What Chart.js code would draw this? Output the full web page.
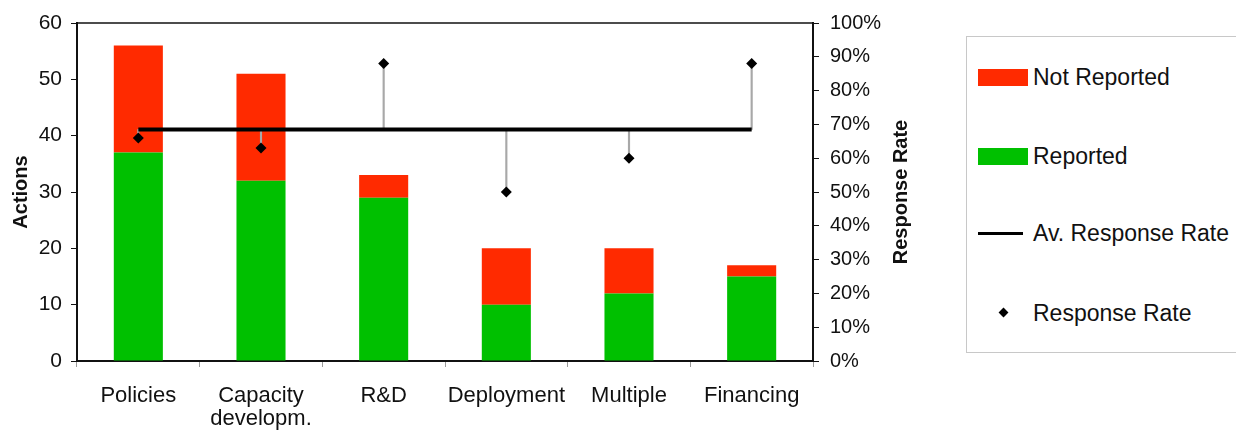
<!DOCTYPE html>
<html>
<head>
<meta charset="utf-8">
<script src="https://cdn.jsdelivr.net/npm/chart.js@4/dist/chart.umd.min.js"></script>
<style>
  html, body { margin: 0; padding: 0; background: #fff; }
  #wrap { position: relative; width: 1236px; height: 432px; overflow: hidden; }
  #c { position: absolute; left: 0; top: 0; }
  #legend { position: absolute; left: 966px; top: 36px; width: 274px; height: 317px;
            box-sizing: border-box; border: 1px solid #c8c8c8; background: #fff;
            font-family: 'Liberation Sans', Arial, sans-serif; font-size: 23px; color: #111; }
  .item { position: absolute; left: 0; height: 30px; width: 100%; }
  .sw { position: absolute; left: 11px; top: 7px; width: 50px; height: 17px; }
  .ln { position: absolute; left: 11px; top: 14px; width: 45px; height: 3px; background: #000; }
  .dm { position: absolute; left: 33px; top: 11px; width: 7px; height: 7px; background: #000; transform: rotate(45deg); }
  .tx { position: absolute; left: 66px; top: 0; line-height: 30px; white-space: nowrap; }
</style>
</head>
<body>
<div id="wrap">
  <canvas id="c" width="1236" height="432"></canvas>
  <div id="legend"></div>
</div>
<script>
// ---- data ----
const categories = ['Policies', ['Capacity', 'developm.'], 'R&D', 'Deployment', 'Multiple', 'Financing'];
const reported = [37, 32, 29, 10, 12, 15];
const notReported = [19, 19, 4, 10, 8, 2];
const responseRate = [66, 63, 88, 50, 60, 88];
const avgResponseRate = [68.5, 68.5, 68.5, 68.5, 68.5, 68.5];
const actionTicks = [0, 10, 20, 30, 40, 50, 60];
const rateTicks = [0, 10, 20, 30, 40, 50, 60, 70, 80, 90, 100];
const legendLabels = ['Not Reported', 'Reported', 'Av. Response Rate', 'Response Rate'];
const rightTitle = 'Response Rate';

const RED = '#ff2a00', GREEN = '#00c000';
const FONT = "'Liberation Sans', Arial, sans-serif";

const dropLines = avgResponseRate.map((a, i) => [a, responseRate[i]]);

const frame = {
  id: 'frame',
  beforeDatasetsDraw(chart) {
    const { ctx, chartArea: a } = chart;
    ctx.save();
    ctx.strokeStyle = '#111';
    ctx.lineWidth = 1.5;
    ctx.beginPath();
    ctx.moveTo(a.left, a.top);
    ctx.lineTo(a.right, a.top);
    ctx.stroke();
    ctx.restore();
  },
  afterDraw(chart) {
    // right axis title, read bottom-to-top like the left one
    const { ctx, chartArea: a } = chart;
    const s = chart.scales.y2;
    ctx.save();
    ctx.translate(s.right - 12, (a.top + a.bottom) / 2);
    ctx.rotate(-Math.PI / 2);
    ctx.font = "bold 20px " + FONT;
    ctx.fillStyle = '#111';
    ctx.textAlign = 'center';
    ctx.textBaseline = 'middle';
    ctx.fillText(rightTitle, 0, 0);
    ctx.restore();
  }
};

new Chart(document.getElementById('c'), {
  data: {
    labels: categories,
    datasets: [
      { type: 'line', label: legendLabels[3], data: responseRate, yAxisID: 'y2', showLine: false,
        pointStyle: 'rectRot', pointRadius: 5.5, pointBackgroundColor: '#000', pointBorderColor: '#000',
        pointBorderWidth: 0, order: 0 },
      { type: 'line', label: legendLabels[2], data: avgResponseRate, yAxisID: 'y2',
        borderColor: '#000', borderWidth: 4, pointRadius: 0, order: 1 },
      { type: 'bar', label: 'drop', data: dropLines, yAxisID: 'y2', grouped: false,
        barThickness: 1.5, maxBarThickness: 1.5, backgroundColor: '#a8a8a8', order: 2 },
      { type: 'bar', label: legendLabels[1], data: reported, yAxisID: 'y', backgroundColor: GREEN,
        barPercentage: 1, categoryPercentage: 0.4, order: 3 },
      { type: 'bar', label: legendLabels[0], data: notReported, yAxisID: 'y', backgroundColor: RED,
        barPercentage: 1, categoryPercentage: 0.4, order: 4 }
    ]
  },
  options: {
    responsive: false,
    animation: false,
    layout: { padding: { left: 0, top: 20, right: 323, bottom: 0 } },
    plugins: { legend: { display: false }, tooltip: { enabled: false } },
    font: { family: FONT },
    scales: {
      x: {
        stacked: true,
        grid: { offset: true, drawOnChartArea: false, drawTicks: true, tickLength: 6, color: '#9a9a9a' },
        border: { display: true, color: '#111', width: 2 },
        ticks: { color: '#111', padding: 17, maxRotation: 0, autoSkip: false,
                 font: { family: FONT, size: 22, lineHeight: 1.05 } },
        afterFit(s) { s.height = 71; }
      },
      y: {
        position: 'left', stacked: true, min: 0, max: 60,
        afterBuildTicks(s) { s.ticks = actionTicks.map(v => ({ value: v })); },
        grid: { drawOnChartArea: false, drawTicks: true, tickLength: 6, color: '#111' },
        border: { display: true, color: '#111', width: 2 },
        ticks: { color: '#111', padding: 9, font: { family: FONT, size: 21 } },
        title: { display: true, text: 'Actions', color: '#111', padding: { top: 9, bottom: 0 },
                 font: { family: FONT, size: 20, weight: 'bold', lineHeight: 1.2 } },
        afterFit(s) { s.width = 77; }
      },
      y2: {
        position: 'right', stacked: false, min: 0, max: 100,
        afterBuildTicks(s) { s.ticks = rateTicks.map(v => ({ value: v })); },
        grid: { drawOnChartArea: false, drawTicks: true, tickLength: 6, color: '#111' },
        border: { display: true, color: '#111', width: 2 },
        ticks: { color: '#111', padding: 11, font: { family: FONT, size: 20 },
                 callback: v => v + '%' },
        title: { display: false },
        afterFit(s) { s.width = 100; }
      }
    }
  },
  plugins: [frame]
});

// ---- HTML legend ----
const lg = document.getElementById('legend');
const items = [
  { label: legendLabels[0], kind: 'sw', color: RED, top: 25 },
  { label: legendLabels[1], kind: 'sw', color: GREEN, top: 104 },
  { label: legendLabels[2], kind: 'ln', top: 181 },
  { label: legendLabels[3], kind: 'dm', top: 261 }
];
items.forEach(it => {
  const d = document.createElement('div');
  d.className = 'item';
  d.style.top = it.top + 'px';
  const m = document.createElement('div');
  m.className = it.kind;
  if (it.color) m.style.background = it.color;
  const t = document.createElement('div');
  t.className = 'tx';
  t.textContent = it.label;
  d.appendChild(m); d.appendChild(t);
  lg.appendChild(d);
});
</script>
</body>
</html>
